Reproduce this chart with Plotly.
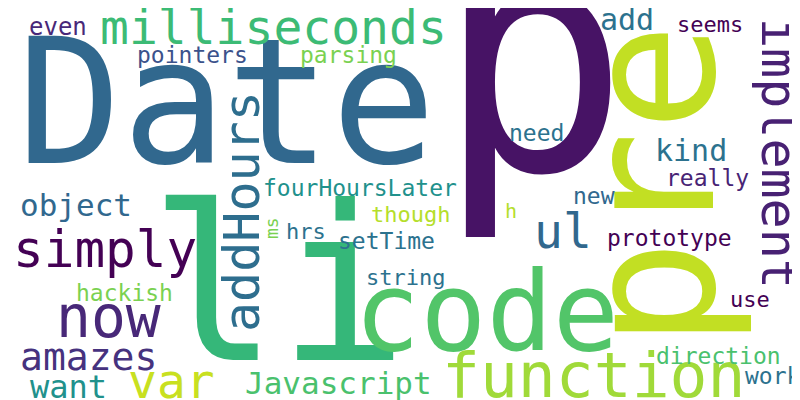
import plotly.graph_objects as go

# word cloud terms, centre positions (pixels from top-left), font sizes, colours, rotation
words = ["p", "Date", "li", "pre", "code", "function", "milliseconds", "addHours",
         "simply", "now", "ul", "implement", "var", "amazes", "want", "Javascript",
         "object", "even", "pointers", "parsing", "add", "seems", "kind", "need",
         "fourHoursLater", "new", "really", "though", "h", "ms", "hrs", "setTime",
         "prototype", "string", "hackish", "use", "direction", "work"]
xs = [525, 218, 270, 642, 478, 585, 265, 234,
      97, 100, 555, 771, 163, 80, 60, 330,
      68, 50, 184, 340, 619, 702, 683, 528,
      352, 586, 699, 402, 503, 263, 298, 378,
      661, 397, 116, 742, 710, 765]
ys = [50, 94, 277, 178, 304, 367, 19, 204,
      241, 309, 223, 145, 373, 349, 379, 375,
      197, 19, 47, 47, 11, 16, 142, 125,
      180, 188, 170, 206, 203, 220, 223, 233,
      230, 269, 285, 291, 348, 368]
sizes = [322, 174, 215, 180, 110, 63, 48, 50,
         51, 58, 48, 50, 48, 38, 32, 31,
         31, 24, 23, 23, 30, 22, 30, 23,
         23, 23, 23, 22, 20, 18, 22, 23,
         23, 22, 23, 22, 23, 23]
colors = ["#471365", "#31688e", "#35b779", "#c2df23", "#52c569", "#a0da39", "#3cbb75", "#2e6e8e",
          "#440154", "#482878", "#31688e", "#482173", "#c8e020", "#46327e", "#21918c", "#4ac16d",
          "#31688e", "#482878", "#3b528b", "#7ad151", "#2c728e", "#440154", "#2c728e", "#2c728e",
          "#21918c", "#31688e", "#482475", "#b5de2b", "#b5de2b", "#7ad151", "#2c728e", "#2c728e",
          "#440154", "#2c728e", "#7ad151", "#440154", "#4ac16d", "#2c728e"]
angles = [0, 0, 0, -90, 0, 0, 0, -90,
          0, 0, 0, 90, 0, 0, 0, 0,
          0, 0, 0, 0, 0, 0, 0, 0,
          0, 0, 0, 0, 0, -90, 0, 0,
          0, 0, 0, 0, 0, 0]

fig = go.Figure()
fig.add_trace(go.Scatter(x=[0, 800], y=[0, 400], mode="markers",
                         marker=dict(opacity=0), hoverinfo="skip"))
for w, x, y, s, c, a in zip(words, xs, ys, sizes, colors, angles):
    fig.add_annotation(x=x, y=y, text=w, showarrow=False, textangle=a,
                       xanchor="center", yanchor="middle",
                       font=dict(family="DejaVu Sans Mono", size=s, color=c))

fig.update_layout(width=800, height=400, margin=dict(l=0, r=0, t=0, b=0),
                  plot_bgcolor="white", paper_bgcolor="white", showlegend=False,
                  xaxis=dict(range=[0, 800], visible=False),
                  yaxis=dict(range=[400, 0], visible=False))
fig.write_html("out.html")
